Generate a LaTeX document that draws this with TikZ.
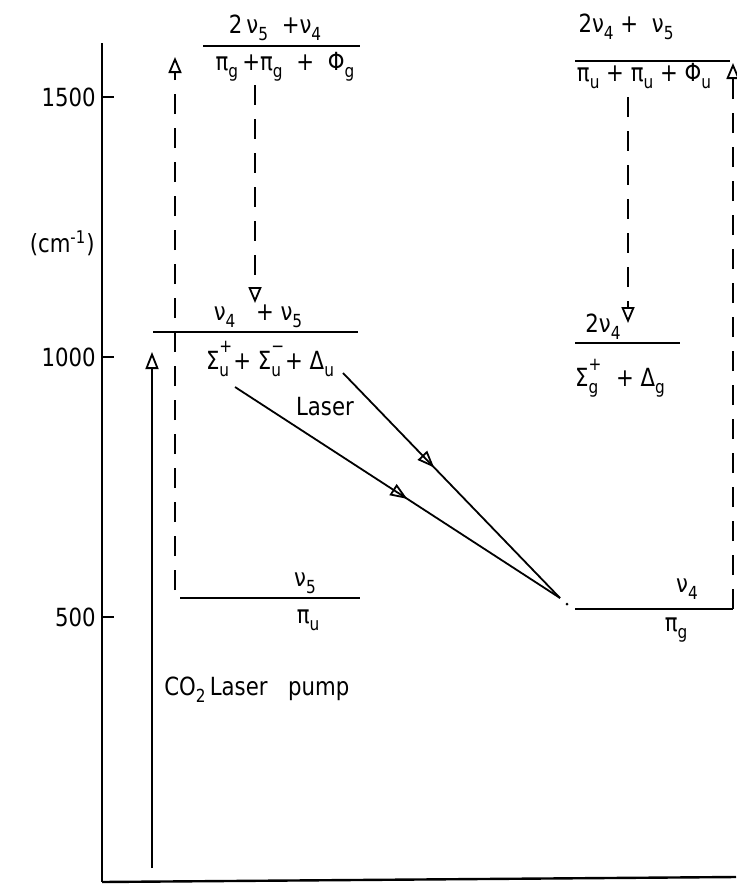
\documentclass[tikz,border=0pt]{standalone}
\usepackage{fontspec}
\setmainfont{DejaVu Sans}[FakeStretch=0.85]
\usetikzlibrary{arrows.meta,decorations.markings}
\newcommand\lsub[1]{\raisebox{-0.5ex}{\small #1}}
\newcommand\lss[2]{\raisebox{-0.5ex}{\rlap{\raisebox{1.7ex}{\small #1}}\small #2}}
\tikzset{
  lvl/.style={line width=1pt},
  lbl/.style={inner sep=0pt, font=\fontsize{12.5}{14}\selectfont},
  tick/.style={line width=1pt},
  dsh/.style={line width=1pt, dash pattern=on 10pt off 7pt, -{Triangle[open,length=8pt,width=6.5pt,line width=0.9pt]}},
  opentip/.style={-{Triangle[open,length=8.5pt,width=6.5pt,line width=0.9pt]}},
  midarrow/.style={postaction={decorate}, decoration={markings, mark=at position #1 with {\arrow{Triangle[open,length=8.5pt,width=6.5pt,line width=0.9pt]}}}}
}
\begin{document}
\begin{tikzpicture}[x=0.5pt,y=-0.5pt]
\useasboundingbox (0,0) rectangle (736,885);
% axis
\coordinate (axtop) at (102,43);
\coordinate (axbot) at (102,882);
\coordinate (baseR) at (736,877);
\draw[line width=1.4pt] (axtop) -- (axbot);
\draw[line width=1.2pt] (axbot) -- (baseR);
\foreach \v/\y in {1500/97,1000/357,500/617}{
  \coordinate (t\v) at (102,\y);
  \draw[tick] (t\v) -- ++(12,0);
  \node[lbl, anchor=east] (n\v) at (96,\y) {\v};
}
\node[lbl, anchor=east] (unit) at (95,243) {(cm\textsuperscript{-1})};
% levels
\coordinate (L1a) at (203,46);  \coordinate (L1b) at (360,46);
\coordinate (R1a) at (575,61);  \coordinate (R1b) at (730,61);
\coordinate (L2a) at (153,332); \coordinate (L2b) at (358,332);
\coordinate (R2a) at (575,343); \coordinate (R2b) at (680,343);
\coordinate (L3a) at (180,598); \coordinate (L3b) at (360,598);
\coordinate (R3a) at (575,609); \coordinate (R3b) at (733,609);
\foreach \a/\b in {L1a/L1b,R1a/R1b,L2a/L2b,R2a/R2b,L3a/L3b,R3a/R3b}{\draw[lvl] (\a) -- (\b);}
% level labels
\node[lbl] (l1t) at (275,28) {2\,ν\lsub{5}\; +ν\lsub{4}};
\node[lbl] (l1b) at (285,67) {π\lsub{g}\,+π\lsub{g}\; + \;Φ\lsub{g}};
\node[lbl] (r1t) at (626,27) {2ν\lsub{4} + \;ν\lsub{5}};
\node[lbl] (r1b) at (644,76) {π\lsub{u} + π\lsub{u} + Φ\lsub{u}};
\node[lbl] (l2t) at (258,316) {ν\lsub{4}\;\; + ν\lsub{5}};
\node[lbl] (l2b) at (270,359) {Σ\lss{+}{u}\,+ Σ\lss{−}{u}\,+ Δ\lsub{u}};
\node[lbl] (r2t) at (603,327) {2ν\lsub{4}};
\node[lbl] (r2b) at (620,378) {Σ\lss{+}{g}\;\, + Δ\lsub{g}};
\node[lbl] (l3t) at (305,583) {ν\lsub{5}};
\node[lbl] (l3b) at (308,620) {π\lsub{u}};
\node[lbl] (r3t) at (687,589) {ν\lsub{4}};
\node[lbl] (r3b) at (676,630) {π\lsub{g}};
% dashed transitions
\coordinate (d1s) at (175,590); \coordinate (d1e) at (175,57);
\coordinate (d2s) at (255,85);  \coordinate (d2e) at (255,303);
\coordinate (d3s) at (628,97);  \coordinate (d3e) at (628,323);
\coordinate (d4s) at (733,609); \coordinate (d4e) at (733,63);
\draw[dsh] (d1s) -- (d1e);
\draw[dsh] (d2s) -- (d2e);
\draw[dsh] (d3s) -- (d3e);
\draw[dsh] (d4s) -- (d4e);
% pump
\coordinate (ps) at (152,868); \coordinate (pe) at (152,352);
\draw[line width=1pt, opentip] (ps) -- (pe);
\node[lbl, anchor=west] (pump) at (164,690) {CO\lsub{2}\,Laser\;\; pump};
% laser lines
\coordinate (la) at (235,387);
\coordinate (lb) at (343,373);
\coordinate (lend) at (560,598);
\draw[line width=0.9pt, midarrow=0.53] (la) -- (lend);
\draw[line width=0.9pt, midarrow=0.42] (lb) -- (lend);
\fill (567,604) circle (1.5);
\node[lbl] (laser) at (325,407) {Laser};
\end{tikzpicture}
\end{document}
